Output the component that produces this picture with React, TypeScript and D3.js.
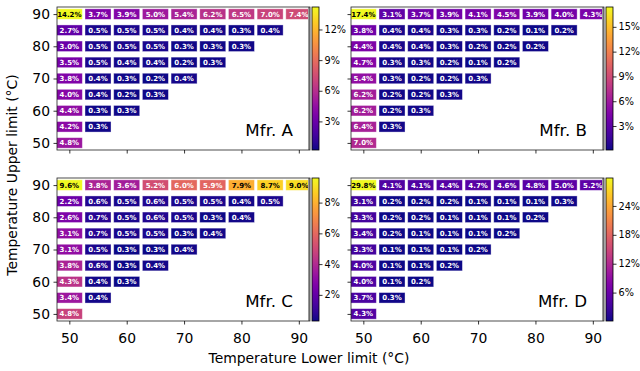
import React, { useEffect, useRef } from "react";
import * as d3 from "d3";

// lower limit (columns) and upper limit (rows, top to bottom)
const lowerTemps = [50, 55, 60, 65, 70, 75, 80, 85, 90];
const upperTemps = [90, 85, 80, 75, 70, 65, 60, 55, 50];

// share of parts (%) per cell, one row per upper limit
const mfrA = [
  [14.2, 3.7, 3.9, 5.0, 5.4, 6.2, 6.5, 7.0, 7.4],
  [2.7, 0.5, 0.5, 0.5, 0.4, 0.4, 0.3, 0.4],
  [3.0, 0.5, 0.5, 0.5, 0.3, 0.3, 0.3],
  [3.5, 0.5, 0.4, 0.4, 0.2, 0.3],
  [3.8, 0.4, 0.3, 0.2, 0.4],
  [4.0, 0.4, 0.2, 0.3],
  [4.4, 0.3, 0.3],
  [4.2, 0.3],
  [4.8],
];
const mfrB = [
  [17.4, 3.1, 3.7, 3.9, 4.1, 4.5, 3.9, 4.0, 4.3],
  [3.8, 0.4, 0.4, 0.3, 0.3, 0.2, 0.1, 0.2],
  [4.4, 0.4, 0.4, 0.3, 0.2, 0.2, 0.2],
  [4.7, 0.3, 0.3, 0.2, 0.1, 0.2],
  [5.4, 0.3, 0.2, 0.2, 0.3],
  [6.2, 0.2, 0.2, 0.3],
  [6.2, 0.2, 0.3],
  [6.4, 0.3],
  [7.0],
];
const mfrC = [
  [9.6, 3.8, 3.6, 5.2, 6.0, 5.9, 7.9, 8.7, 9.0],
  [2.2, 0.6, 0.5, 0.6, 0.5, 0.5, 0.4, 0.5],
  [2.6, 0.7, 0.5, 0.6, 0.5, 0.3, 0.4],
  [3.1, 0.7, 0.5, 0.5, 0.3, 0.4],
  [3.1, 0.5, 0.3, 0.3, 0.4],
  [3.8, 0.6, 0.3, 0.4],
  [4.3, 0.4, 0.3],
  [3.4, 0.4],
  [4.8],
];
const mfrD = [
  [29.8, 4.1, 4.1, 4.4, 4.7, 4.6, 4.8, 5.0, 5.2],
  [3.1, 0.2, 0.2, 0.2, 0.1, 0.1, 0.1, 0.3],
  [3.3, 0.2, 0.2, 0.1, 0.1, 0.1, 0.2],
  [3.4, 0.2, 0.1, 0.1, 0.1, 0.2],
  [3.3, 0.1, 0.1, 0.1, 0.2],
  [4.0, 0.1, 0.1, 0.2],
  [4.0, 0.1, 0.2],
  [3.7, 0.3],
  [4.3],
];

const axisTicks = [50, 60, 70, 80, 90];
const cbTicksA = [3, 6, 9, 12];
const cbTicksB = [3, 6, 9, 12, 15];
const cbTicksC = [2, 4, 6, 8];
const cbTicksD = [6, 12, 18, 24];

const W = 640;
const H = 371;
const FONT = "'DejaVu Sans', sans-serif";

const App = () => {
  const ref = useRef<SVGSVGElement | null>(null);

  useEffect(() => {
    document.body.style.margin = "0";
    const svg = d3.select(ref.current);
    svg.selectAll("*").remove();

    const panels = [
      { name: "Mfr. A", data: mfrA, cb: cbTicksA, x0: 57, y0: 7, showX: false, showY: true },
      { name: "Mfr. B", data: mfrB, cb: cbTicksB, x0: 351, y0: 7, showX: false, showY: false },
      { name: "Mfr. C", data: mfrC, cb: cbTicksC, x0: 57, y0: 178, showX: true, showY: true },
      { name: "Mfr. D", data: mfrD, cb: cbTicksD, x0: 351, y0: 178, showX: true, showY: false },
    ];
    const pw = 253;
    const ph = 143;
    const cellW = 26;
    const cellH = 10.5;

    const defs = svg.append("defs");
    const grad = defs
      .append("linearGradient")
      .attr("id", "plasma")
      .attr("x1", 0)
      .attr("x2", 0)
      .attr("y1", 1)
      .attr("y2", 0);
    d3.range(0, 1.0001, 0.05).forEach((t) => {
      grad
        .append("stop")
        .attr("offset", t)
        .attr("stop-color", d3.interpolatePlasma(t));
    });

    panels.forEach((p, pi) => {
      const xScale = d3.scaleLinear().domain([47.85, 91.95]).range([p.x0, p.x0 + pw]);
      const yScale = d3.scaleLinear().domain([47.8, 92.2]).range([p.y0 + ph, p.y0]);
      const flat = p.data.flat();
      const vmin = d3.min(flat) as number;
      const vmax = d3.max(flat) as number;
      const norm = d3.scaleLinear().domain([vmin, vmax]).range([0, 1]);

      defs
        .append("clipPath")
        .attr("id", `clip${pi}`)
        .append("rect")
        .attr("x", p.x0)
        .attr("y", p.y0)
        .attr("width", pw)
        .attr("height", ph);

      const g = svg.append("g").attr("clip-path", `url(#clip${pi})`);
      p.data.forEach((row, ri) => {
        row.forEach((v, ci) => {
          const cx = xScale(lowerTemps[ci]);
          const cy = yScale(upperTemps[ri]);
          const t = norm(v);
          g.append("rect")
            .attr("x", cx - cellW / 2)
            .attr("y", cy - cellH / 2)
            .attr("width", cellW)
            .attr("height", cellH)
            .attr("fill", d3.interpolatePlasma(t))
            .attr("stroke", "rgba(255,255,255,0.45)")
            .attr("stroke-width", 0.8);
          g.append("text")
            .attr("x", cx)
            .attr("y", cy)
            .attr("dy", "0.36em")
            .attr("text-anchor", "middle")
            .attr("font-family", FONT)
            .attr("font-weight", "bold")
            .attr("font-size", 7)
            .attr("fill", t > 0.7 ? "#000" : "#fff")
            .text(`${v.toFixed(1)}%`);
        });
      });

      // label in the empty corner
      svg
        .append("text")
        .attr("x", p.x0 + pw - 17)
        .attr("y", p.y0 + ph - 14)
        .attr("text-anchor", "end")
        .attr("font-family", FONT)
        .attr("font-size", 16.7)
        .attr("fill", "#000")
        .text(p.name);

      // frame
      svg
        .append("line")
        .attr("x1", p.x0 + pw - 1)
        .attr("x2", p.x0 + pw - 1)
        .attr("y1", p.y0)
        .attr("y2", p.y0 + ph)
        .attr("stroke", "#999")
        .attr("stroke-width", 2);
      svg
        .append("rect")
        .attr("x", p.x0)
        .attr("y", p.y0)
        .attr("width", pw)
        .attr("height", ph)
        .attr("fill", "none")
        .attr("stroke", "#222")
        .attr("stroke-width", 0.8);

      // axes
      const xAxis = d3.axisBottom(xScale).tickValues(axisTicks).tickSize(3.5).tickPadding(9);
      const xg = svg
        .append("g")
        .attr("transform", `translate(0,${p.y0 + ph})`)
        .call(xAxis);
      if (!p.showX) xg.selectAll("text").remove();
      const yAxis = d3.axisLeft(yScale).tickValues(axisTicks).tickSize(3.5).tickPadding(3.5);
      const yg = svg
        .append("g")
        .attr("transform", `translate(${p.x0},0)`)
        .call(yAxis);
      if (!p.showY) yg.selectAll("text").remove();
      [xg, yg].forEach((ag) => {
        ag.select(".domain").remove();
        ag.selectAll("text").attr("font-family", FONT).attr("font-size", 13.9).attr("fill", "#000");
        ag.selectAll("line").attr("stroke", "#000").attr("stroke-width", 0.8);
      });

      // colorbar
      const cbx = p.x0 + pw + 2;
      const cbw = 7;
      const cbScale = d3.scaleLinear().domain([vmin, vmax]).range([p.y0 + ph, p.y0]);
      svg
        .append("rect")
        .attr("x", cbx)
        .attr("y", p.y0)
        .attr("width", cbw)
        .attr("height", ph)
        .attr("fill", "url(#plasma)")
        .attr("stroke", "#000")
        .attr("stroke-width", 0.8);
      const cbAxis = d3
        .axisRight(cbScale)
        .tickValues(p.cb)
        .tickSize(3.5)
        .tickPadding(2)
        .tickFormat((d) => `${d}%`);
      const cg = svg
        .append("g")
        .attr("transform", `translate(${cbx + cbw},0)`)
        .call(cbAxis);
      cg.select(".domain").remove();
      cg.selectAll("text").attr("font-family", FONT).attr("font-size", 9.7).attr("fill", "#000");
      cg.selectAll("line").attr("stroke", "#000").attr("stroke-width", 0.8);
    });

    svg
      .append("text")
      .attr("x", 309)
      .attr("y", 363)
      .attr("text-anchor", "middle")
      .attr("font-family", FONT)
      .attr("font-size", 13.9)
      .text("Temperature Lower limit (°C)");
    svg
      .append("text")
      .attr("transform", `translate(17,175) rotate(-90)`)
      .attr("text-anchor", "middle")
      .attr("font-family", FONT)
      .attr("font-size", 13.9)
      .text("Temperature Upper limit (°C)");
  }, []);

  return (
    <div style={{ width: W, height: H }}>
      <svg ref={ref} width={W} height={H} style={{ display: "block", background: "#fff" }}></svg>
    </div>
  );
};

export default App;
